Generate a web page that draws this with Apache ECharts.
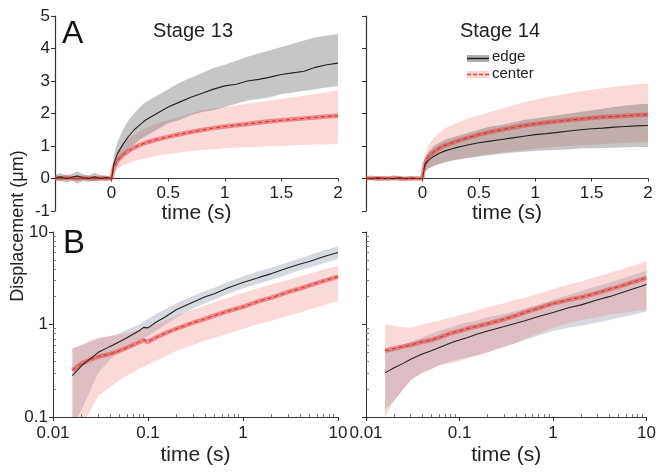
<!DOCTYPE html>
<html><head><meta charset="utf-8">
<script src="https://cdn.jsdelivr.net/npm/echarts@6/dist/echarts.min.js"></script>
<style>html,body{margin:0;padding:0;background:#fff}#c{width:659px;height:474px}</style>
</head><body><div id="c"></div>
<script>
// ---------- DATA ----------
// Panel A (linear time, s)
var tA = [-0.5,-0.45,-0.4,-0.35,-0.3,-0.25,-0.2,-0.15,-0.1,-0.05,0,0.02,0.05,0.1,0.15,0.2,0.25,0.3,0.4,0.5,0.6,0.7,0.8,0.9,1.0,1.1,1.2,1.3,1.4,1.5,1.6,1.7,1.8,1.9,2.0];
// Stage 13
var s13EdgeMean = [0.02,0.05,0.0,0.04,0.08,0.02,0.0,0.05,0.0,0.03,0.0, 0.45,0.75,1.05,1.3,1.5,1.65,1.8, 2.0,2.2,2.35,2.5,2.62,2.75,2.85,2.9,3.0,3.05,3.12,3.2,3.25,3.3,3.42,3.5,3.55];
var s13EdgeHi   = [0.12,0.16,0.1,0.14,0.22,0.12,0.1,0.18,0.09,0.1,0.04, 0.7,1.1,1.5,1.8,2.0,2.2,2.35, 2.55,2.75,2.95,3.1,3.25,3.4,3.5,3.62,3.75,3.85,3.95,4.05,4.15,4.25,4.35,4.4,4.45];
var s13EdgeLo   = [-0.08,-0.05,-0.12,-0.06,-0.15,-0.08,-0.1,-0.06,-0.08,-0.05,-0.02, 0.3,0.5,0.7,0.9,1.05,1.2,1.3, 1.5,1.7,1.8,1.95,2.05,2.1,2.2,2.3,2.4,2.45,2.5,2.6,2.65,2.7,2.75,2.8,2.85];
var s13CenterMean = [0.02,0.0,0.03,0.01,0.0,0.02,0.01,0.0,0.02,0.0,0.0, 0.35,0.55,0.72,0.85,0.95,1.03,1.1, 1.2,1.28,1.36,1.43,1.49,1.55,1.6,1.64,1.68,1.72,1.76,1.79,1.82,1.85,1.88,1.91,1.93];
var s13CenterHi   = [0.07,0.05,0.08,0.06,0.05,0.07,0.06,0.05,0.07,0.05,0.04, 0.55,0.85,1.1,1.25,1.35,1.45,1.55, 1.7,1.8,1.9,2.0,2.1,2.15,2.2,2.25,2.3,2.35,2.4,2.45,2.5,2.55,2.6,2.65,2.7];
var s13CenterLo   = [-0.04,-0.06,-0.03,-0.05,-0.06,-0.04,-0.05,-0.06,-0.04,-0.05,-0.03, 0.15,0.3,0.4,0.48,0.55,0.58,0.62, 0.7,0.75,0.8,0.85,0.88,0.9,0.93,0.95,0.97,0.98,1.0,1.0,1.02,1.03,1.05,1.05,1.07];
// Stage 14
var s14EdgeMean = [0.01,-0.01,0.02,0.0,0.01,-0.01,0.02,0.0,0.01,0.0,0.0, 0.4,0.55,0.68,0.78,0.85,0.9,0.95, 1.03,1.1,1.15,1.2,1.25,1.3,1.35,1.38,1.42,1.46,1.5,1.53,1.55,1.58,1.6,1.62,1.63];
var s14EdgeHi   = [0.05,0.04,0.06,0.05,0.04,0.05,0.06,0.04,0.05,0.04,0.03, 0.6,0.8,1.0,1.1,1.2,1.25,1.3, 1.4,1.5,1.6,1.65,1.72,1.8,1.85,1.9,1.95,2.0,2.05,2.1,2.15,2.2,2.25,2.28,2.3];
var s14EdgeLo   = [-0.04,-0.05,-0.03,-0.04,-0.05,-0.04,-0.03,-0.05,-0.04,-0.03,-0.02, 0.2,0.3,0.38,0.45,0.5,0.54,0.58, 0.63,0.68,0.72,0.76,0.8,0.82,0.85,0.87,0.88,0.9,0.92,0.93,0.94,0.95,0.96,0.97,0.97];
var s14CenterMean = [0.0,0.02,-0.01,0.01,0.0,0.02,0.0,-0.01,0.01,0.0,0.0, 0.45,0.65,0.82,0.93,1.02,1.08,1.14, 1.25,1.35,1.43,1.5,1.57,1.63,1.68,1.72,1.76,1.8,1.83,1.86,1.89,1.91,1.93,1.95,1.97];
var s14CenterHi   = [0.06,0.05,0.07,0.06,0.05,0.07,0.06,0.05,0.06,0.05,0.03, 0.7,1.0,1.25,1.4,1.55,1.62,1.7, 1.85,1.95,2.05,2.15,2.25,2.35,2.42,2.5,2.56,2.62,2.68,2.73,2.78,2.82,2.86,2.9,2.92];
var s14CenterLo   = [-0.05,-0.04,-0.06,-0.05,-0.04,-0.06,-0.05,-0.04,-0.05,-0.04,-0.02, 0.2,0.3,0.4,0.45,0.5,0.54,0.57, 0.63,0.7,0.75,0.8,0.84,0.88,0.92,0.95,0.98,1.0,1.02,1.04,1.06,1.08,1.1,1.11,1.12];

// Panel B (log-log)
var tB = [0.016,0.02,0.025,0.03,0.04,0.05,0.06,0.08,0.09,0.1,0.12,0.15,0.2,0.3,0.4,0.5,0.7,1,1.5,2,3,4,5,7,10];
var b13EdgeMean   = [0.28,0.36,0.43,0.5,0.58,0.65,0.72,0.85,0.93,0.92,1.05,1.2,1.45,1.75,2.0,2.15,2.5,2.85,3.25,3.55,4.1,4.5,4.8,5.4,6.0];
var b13EdgeHi     = [0.55,0.6,0.65,0.7,0.75,0.8,0.88,1.0,1.08,1.15,1.28,1.45,1.7,2.05,2.3,2.5,2.9,3.3,3.8,4.1,4.7,5.2,5.6,6.3,7.0];
var b13EdgeLo     = [0.08,0.12,0.2,0.3,0.42,0.5,0.56,0.68,0.72,0.75,0.85,0.98,1.2,1.5,1.7,1.85,2.15,2.45,2.8,3.05,3.5,3.85,4.1,4.6,5.1];
var b13CenterMean = [0.32,0.38,0.42,0.45,0.48,0.52,0.56,0.64,0.68,0.65,0.72,0.8,0.9,1.05,1.15,1.25,1.4,1.55,1.8,1.95,2.25,2.45,2.65,2.95,3.3];
var b13CenterHi   = [0.55,0.6,0.68,0.72,0.75,0.78,0.8,0.88,0.92,0.95,1.0,1.1,1.25,1.45,1.6,1.75,1.95,2.2,2.5,2.7,3.05,3.3,3.55,3.9,4.3];
var b13CenterLo   = [0.05,0.08,0.12,0.17,0.21,0.25,0.28,0.33,0.35,0.37,0.4,0.45,0.52,0.6,0.67,0.72,0.8,0.9,1.02,1.1,1.25,1.35,1.45,1.6,1.8];
var b14EdgeMean   = [0.3,0.34,0.38,0.42,0.48,0.52,0.56,0.63,0.66,0.68,0.72,0.78,0.85,0.95,1.03,1.1,1.22,1.35,1.53,1.63,1.85,2.0,2.15,2.4,2.7];
var b14EdgeHi     = [0.5,0.55,0.6,0.65,0.72,0.8,0.85,0.93,0.97,1.0,1.05,1.1,1.2,1.3,1.4,1.5,1.65,1.85,2.1,2.3,2.6,2.85,3.05,3.4,3.8];
var b14EdgeLo     = [0.12,0.15,0.2,0.25,0.3,0.33,0.36,0.4,0.41,0.42,0.44,0.46,0.5,0.58,0.63,0.68,0.76,0.85,0.93,0.97,1.05,1.12,1.18,1.27,1.38];
var b14CenterMean = [0.52,0.55,0.58,0.6,0.65,0.68,0.72,0.8,0.83,0.85,0.9,0.95,1.02,1.14,1.25,1.35,1.5,1.68,1.86,1.97,2.2,2.4,2.55,2.85,3.2];
var b14CenterHi   = [1.0,0.97,0.93,0.92,1.0,1.05,1.1,1.18,1.22,1.25,1.32,1.4,1.55,1.7,1.85,1.95,2.15,2.42,2.73,2.92,3.3,3.6,3.85,4.3,4.8];
var b14CenterLo   = [0.1,0.15,0.2,0.25,0.3,0.33,0.36,0.38,0.39,0.4,0.43,0.46,0.5,0.57,0.63,0.7,0.8,0.92,1.04,1.12,1.2,1.28,1.32,1.38,1.45];

// Tick values
var logMinor = [0.02,0.03,0.04,0.05,0.06,0.07,0.08,0.09,0.2,0.3,0.4,0.5,0.6,0.7,0.8,0.9,2,3,4,5,6,7,8,9];
var logMinorY = [0.2,0.3,0.4,0.5,0.6,0.7,0.8,0.9,2,3,4,5,6,7,8,9];
var logLabelsX = ['0.01','0.1','1','10'];
var logLabelsY = ['0.1','1','10'];
var panelTitles = ['Stage 13','Stage 14'];
var legendNames = ['edge','center'];

// ---------- CHART ----------
var FONT = 'Liberation Sans, Arial, Helvetica, sans-serif';
var AX = '#333';
var GRAY_A = 'rgba(105,105,105,0.38)';
var GRAY_B = 'rgba(140,150,165,0.36)';
var PINK = 'rgba(238,120,120,0.28)';

function pairs(t, v){ return t.map(function(x,i){ return [x, v[i]]; }); }

function band(xi, yi, t, lo, hi, color){
  return {
    type:'custom', xAxisIndex:xi, yAxisIndex:yi, clip:true, silent:true, z:1,
    data:[[t[0], hi[0]]],
    renderItem:function(params, api){
      var pts = [];
      for (var i=0;i<t.length;i++) pts.push(api.coord([t[i], hi[i]]));
      for (var j=t.length-1;j>=0;j--) pts.push(api.coord([t[j], lo[j]]));
      return {type:'polygon', shape:{points:pts}, style:{fill:color, stroke:null}};
    }
  };
}
function meanLine(xi, yi, t, v, kind){
  var out = [];
  if (kind === 'edge') {
    out.push({type:'line', xAxisIndex:xi, yAxisIndex:yi, data:pairs(t,v), showSymbol:false, silent:true, z:4,
      lineStyle:{color:'#222', width:1.1}, clip:true});
  } else {
    out.push({type:'line', xAxisIndex:xi, yAxisIndex:yi, data:pairs(t,v), showSymbol:false, silent:true, z:3,
      lineStyle:{color:'rgba(225,70,65,0.55)', width:4.5}, clip:true});
    out.push({type:'line', xAxisIndex:xi, yAxisIndex:yi, data:pairs(t,v), showSymbol:false, silent:true, z:5,
      lineStyle:{color:'#c9302c', width:1, type:[4,3]}, clip:true});
  }
  return out;
}

var labelStyle = {color:'#222', fontSize:17, fontFamily:FONT};
var nameStyle = {color:'#222', fontSize:21, fontFamily:FONT};

function linX(gi){
  return {type:'value', gridIndex:gi, min:-0.5, max:2, interval:0.5, offset:-32.5,
    axisLine:{show:true, onZero:false, lineStyle:{color:AX, width:1.2}},
    axisTick:{show:true, length:3, lineStyle:{color:AX}},
    axisLabel:Object.assign({margin:6, formatter:function(v){ return v < 0 ? '' : String(v); }}, labelStyle),
    splitLine:{show:false},
    name:'time (s)', nameLocation:'middle', nameGap:19, nameTextStyle:nameStyle};
}
function linY(gi, showLabels){
  return {type:'value', gridIndex:gi, min:-1, max:5, interval:1,
    axisLine:{show:true, onZero:false, lineStyle:{color:AX, width:1.2}},
    axisTick:{show:true, length:4, lineStyle:{color:AX}},
    axisLabel:Object.assign({show:showLabels, margin:5}, labelStyle),
    splitLine:{show:false}};
}
function logX(gi){
  return {type:'log', logBase:10, gridIndex:gi, min:0.01, max:10,
    axisLine:{show:true, onZero:false, lineStyle:{color:AX, width:1}},
    axisTick:{show:true, length:4, lineStyle:{color:AX}},
    axisLabel:Object.assign({margin:8, customValues:[0.01,0.1,1,10], formatter:function(v){
      var k = Math.round(Math.log10(v)) + 2; return logLabelsX[k]; }}, labelStyle),
    splitLine:{show:false},
    name:'time (s)', nameLocation:'middle', nameGap:28, nameTextStyle:nameStyle};
}
function logXMinor(gi){
  return {type:'log', logBase:10, gridIndex:gi, min:0.01, max:10, position:'bottom',
    axisLine:{show:false, onZero:false},
    axisTick:{show:true, inside:true, length:3, customValues:logMinor, lineStyle:{color:'#777'}},
    axisLabel:{show:false}, splitLine:{show:false}};
}
function logY(gi, showLabels){
  return {type:'log', logBase:10, gridIndex:gi, min:0.1, max:10,
    axisLine:{show:true, onZero:false, lineStyle:{color:AX, width:1}},
    axisTick:{show:true, length:4, lineStyle:{color:AX}},
    axisLabel:Object.assign({show:showLabels, margin:5, customValues:[0.1,1,10], formatter:function(v){
      var k = Math.round(Math.log10(v)) + 1; return logLabelsY[k]; }}, labelStyle),
    splitLine:{show:false}};
}
function logYMinor(gi){
  return {type:'log', logBase:10, gridIndex:gi, min:0.1, max:10, position:'left',
    axisLine:{show:false, onZero:false},
    axisTick:{show:true, inside:true, length:3, customValues:logMinorY, lineStyle:{color:'#777'}},
    axisLabel:{show:false}, splitLine:{show:false}};
}

var series = [];
// Top-left: Stage 13
series.push(band(0,0,tA,s13CenterLo,s13CenterHi,PINK));
series.push(band(0,0,tA,s13EdgeLo,s13EdgeHi,GRAY_A));
series = series.concat(meanLine(0,0,tA,s13CenterMean,'center'));
series = series.concat(meanLine(0,0,tA,s13EdgeMean,'edge'));
// Top-right: Stage 14
series.push(band(1,1,tA,s14CenterLo,s14CenterHi,PINK));
series.push(band(1,1,tA,s14EdgeLo,s14EdgeHi,GRAY_A));
series = series.concat(meanLine(1,1,tA,s14EdgeMean,'edge'));
series = series.concat(meanLine(1,1,tA,s14CenterMean,'center'));
// Bottom-left
series.push(band(2,2,tB,b13EdgeLo,b13EdgeHi,GRAY_B));
series.push(band(2,2,tB,b13CenterLo,b13CenterHi,PINK));
series = series.concat(meanLine(2,2,tB,b13CenterMean,'center'));
series = series.concat(meanLine(2,2,tB,b13EdgeMean,'edge'));
// Bottom-right
series.push(band(3,3,tB,b14EdgeLo,b14EdgeHi,GRAY_B));
series.push(band(3,3,tB,b14CenterLo,b14CenterHi,PINK));
series = series.concat(meanLine(3,3,tB,b14EdgeMean,'edge'));
series = series.concat(meanLine(3,3,tB,b14CenterMean,'center'));

var option = {
  animation:false,
  backgroundColor:'#fff',
  grid:[
    {left:55, top:16, width:283, height:195},
    {left:366, top:16, width:282, height:195},
    {left:53, top:232, width:285, height:185},
    {left:366, top:232, width:285, height:185}
  ],
  xAxis:[linX(0), linX(1), logX(2), logX(3), logXMinor(2), logXMinor(3)],
  yAxis:[linY(0,true), linY(1,false), logY(2,true), logY(3,false), logYMinor(2), logYMinor(3)],
  series:series,
  graphic:[
    {type:'text', left:62, top:18, style:{text:'A', fontSize:32, fontFamily:FONT, fill:'#111'}},
    {type:'text', left:63, top:227, style:{text:'B', fontSize:33, fontFamily:FONT, fill:'#111'}},
    {type:'text', x:193, y:31, style:{text:panelTitles[0], fontSize:20, fontFamily:FONT, fill:'#222', align:'center', verticalAlign:'middle'}},
    {type:'text', x:500, y:31, style:{text:panelTitles[1], fontSize:20, fontFamily:FONT, fill:'#222', align:'center', verticalAlign:'middle'}},
    {type:'text', x:18, y:226, rotation:Math.PI/2, style:{text:'Displacement (μm)', fontSize:18, fontFamily:FONT, fill:'#222', align:'center', verticalAlign:'middle'}},
    // legend
    {type:'rect', shape:{x:467, y:55, width:22, height:7}, style:{fill:'rgba(110,110,110,0.55)'}},
    {type:'line', shape:{x1:467, y1:58.5, x2:489, y2:58.5}, style:{stroke:'#222', lineWidth:1.5}},
    {type:'text', x:492, y:57, style:{text:legendNames[0], fontSize:15, fontFamily:FONT, fill:'#222', verticalAlign:'middle'}},
    {type:'rect', shape:{x:467, y:71, width:22, height:7}, style:{fill:'rgba(238,120,120,0.3)'}},
    {type:'line', shape:{x1:467, y1:74.5, x2:489, y2:74.5}, style:{stroke:'#e0473f', lineWidth:1.3, lineDash:[4,2]}},
    {type:'text', x:492, y:74, style:{text:legendNames[1], fontSize:15, fontFamily:FONT, fill:'#222', verticalAlign:'middle'}}
  ]
};
var chart = echarts.init(document.getElementById('c'), null, {renderer:'canvas'});
chart.setOption(option);
</script>
</body></html>
